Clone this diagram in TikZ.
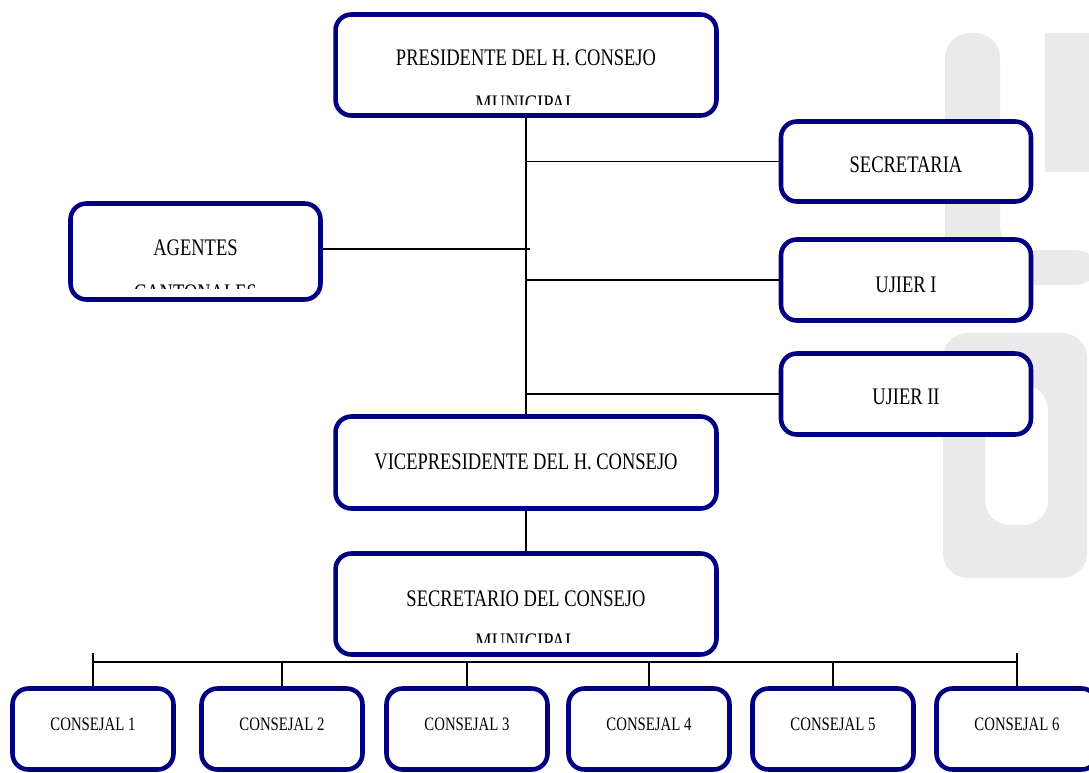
\documentclass[tikz,border=0pt]{standalone}
\usepackage{fontspec}
\setmainfont{Liberation Serif}[FakeStretch=0.78]
\definecolor{boxblue}{RGB}{0,0,128}
\definecolor{wmark}{RGB}{234,234,234}

\begin{document}
\begin{tikzpicture}[x=0.02cm, y=-0.02cm,
    cargo/.style={draw=boxblue, line width=2.6pt, rounded corners=9pt, fill=white},
    txt/.style={font=\fontsize{13.5}{16}\selectfont, inner sep=0pt, anchor=base},
    small/.style={font=\fontsize{10.8}{13}\selectfont, inner sep=0pt, anchor=base},
    conn/.style={line width=1pt}]
    \useasboundingbox (0,0) rectangle (1089,772);
    \clip (0,0) rectangle (1089,772);

    % watermark
    \fill[wmark, rounded corners=14pt] (945,33) -- (1000,33) -- (1000,250) -- (1100,250) -- (1100,285) -- (945,285) -- cycle;
    \fill[wmark] (1045,33) rectangle (1100,172);
    \fill[wmark, rounded corners=14pt, even odd rule] (943,333) -- (1087,333) -- (1087,578) -- (943,578) -- cycle
        (985,385) -- (1048,385) -- (1048,525) -- (985,525) -- cycle;

    % boxes
    \node[cargo, minimum width=7.62cm, minimum height=2.02cm] (pres) at (526,65) {};
    \node[cargo, minimum width=5cm, minimum height=1.6cm] (secr) at (906,161.5) {};
    \node[cargo, minimum width=5cm, minimum height=1.92cm] (agen) at (195.5,251.5) {};
    \node[cargo, minimum width=5cm, minimum height=1.62cm] (ujier1) at (906,280) {};
    \node[cargo, minimum width=5cm, minimum height=1.62cm] (ujier2) at (906,394) {};
    \node[cargo, minimum width=7.62cm, minimum height=1.84cm] (vice) at (526,462.5) {};
    \node[cargo, minimum width=7.62cm, minimum height=2.02cm] (secc) at (526,604) {};
    \node[cargo, minimum width=3.22cm, minimum height=1.62cm] (c1) at (93,729) {};
    \node[cargo, minimum width=3.22cm, minimum height=1.62cm] (c2) at (282,729) {};
    \node[cargo, minimum width=3.22cm, minimum height=1.62cm] (c3) at (467,729) {};
    \node[cargo, minimum width=3.22cm, minimum height=1.62cm] (c4) at (649,729) {};
    \node[cargo, minimum width=3.22cm, minimum height=1.62cm] (c5) at (833,729) {};
    \node[cargo, minimum width=3.22cm, minimum height=1.62cm] (c6) at (1017,729) {};

    % texts
    \node[txt] (presT) at (526,65) {PRESIDENTE DEL H. CONSEJO};
    \node[txt] (secrT) at (906,172) {SECRETARIA};
    \node[txt] (agenT) at (195.5,255) {AGENTES};
    \node[txt] (ujier1T) at (906,292) {UJIER I};
    \node[txt] (ujier2T) at (906,404) {UJIER II};
    \node[txt] (viceT) at (526,469) {VICEPRESIDENTE DEL H. CONSEJO};
    \node[txt] (seccT) at (526,606) {SECRETARIO DEL CONSEJO};
    \begin{scope}
        \clip (300,0) rectangle (750,104);
        \node[txt] (presT2) at (526,111) {MUNICIPAL};
    \end{scope}
    \begin{scope}
        \clip (60,200) rectangle (330,288);
        \node[txt] (agenT2) at (195.5,300) {CANTONALES};
    \end{scope}
    \begin{scope}
        \clip (300,560) rectangle (750,642);
        \node[txt] (seccT2) at (526,649) {MUNICIPAL};
    \end{scope}
    \node[small] (c1T) at (93,730) {CONSEJAL 1};
    \node[small] (c2T) at (282,730) {CONSEJAL 2};
    \node[small] (c3T) at (467,730) {CONSEJAL 3};
    \node[small] (c4T) at (649,730) {CONSEJAL 4};
    \node[small] (c5T) at (833,730) {CONSEJAL 5};
    \node[small] (c6T) at (1017,730) {CONSEJAL 6};

    % lines
    \coordinate (agenEnd) at (530,249);
    \coordinate (bus) at (0,662);
    \draw[conn] (pres) -- (vice);
    \draw[conn] (secr.west) -- (secr.west -| pres.south);
    \draw[conn] (agen.east |- agenEnd) -- (agenEnd);
    \draw[conn] (ujier1.west) -- (ujier1.west -| pres.south);
    \draw[conn] (ujier2.west) -- (ujier2.west -| pres.south);
    \draw[conn] (vice) -- (secc);
    \draw[conn] (c1.north) -- ++(0,-33);
    \draw[conn] (c6.north) -- ++(0,-33);
    \draw[conn] (c1.north |- bus) -- (c6.north |- bus);
    \foreach \i in {2,...,5}
        \draw[conn] (c\i.north) -- (c\i.north |- bus);
\end{tikzpicture}
\end{document}
